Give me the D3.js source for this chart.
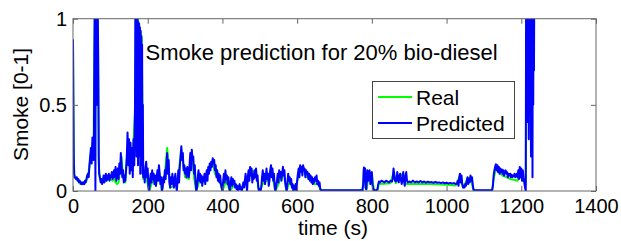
<!DOCTYPE html>
<html>
<head>
<meta charset="utf-8">
<script src="https://cdn.jsdelivr.net/npm/d3@7"></script>
<style>
  body { margin: 0; background: #fff; }
  svg { font-family: Arial, "Liberation Sans", sans-serif; }
</style>
</head>
<body>
<div id="chart"></div>
<script>
// smoke values, [time (s), smoke]
var predicted = [
  [0,0.88],[1,0.5],[2,0.2],[3,0.1],[5,0.08],[8,0.07],[10,0.08],[12,0.06],[14,0.07],[16,0.05],[18,0.06],[20,0.05],
  [22,0.04],[24,0.05],[26,0.04],[28,0.05],[30,0.04],[32,0.06],[34,0.05],[36,0.07],[38,0.09],[40,0.1],[42,0.08],
  [44,0.15],[46,0.2],[48,0.25],[50,0.16],[52,0.31],[54,0.28],[55,0.18],[56,0.3],[57,0.7],[58,1.05],[59,1.1],
  [60,0.0],[61,1.05],[62,1.1],[63,0.95],[64,0.5],[65,1.05],[66,1.1],[67,0.9],[68,0.6],[69,0.2],[70,0.1],
  [72,0.08],[74,0.05],[76,0.07],[78,0.04],[80,0.06],[82,0.09],[84,0.05],[86,0.08],[88,0.1],[90,0.06],[92,0.09],
  [94,0.07],[96,0.1],[98,0.06],[100,0.09],[102,0.08],[104,0.11],[106,0.07],[108,0.1],
  [110,0.12],[112,0.08],[114,0.14],[116,0.06],[118,0.1],[120,0.13],[122,0.07],[124,0.16],[126,0.1],[128,0.22],
  [130,0.15],[132,0.08],[134,0.12],[136,0.05],[138,0.09],[140,0.06],[142,0.12],
  [144,0.2],[146,0.34],[148,0.15],[150,0.3],[152,0.1],[154,0.28],[156,0.12],[158,0.25],[160,0.08],[162,0.3],
  [164,0.15],[166,0.5],[167,1.05],[168,0.3],[169,1.05],[170,0.2],[171,1.0],[172,0.4],[173,1.02],[174,0.15],
  [175,0.98],[176,0.3],[177,0.97],[178,0.2],[179,0.95],[180,0.1],[181,0.93],[182,0.25],[183,0.9],[184,0.15],
  [185,0.85],[186,0.1],[187,0.5],[188,0.08],
  [190,0.12],[192,0.05],[194,0.14],[196,0.17],[198,0.08],[200,0.13],[202,0.02],[204,0.0],[206,0.06],[208,0.1],
  [210,0.05],[212,0.12],[214,0.07],[216,0.1],[218,0.04],[220,0.09],[222,0.03],[224,0.08],[226,0.12],[228,0.06],
  [230,0.15],[232,0.1],[234,0.04],[236,0.08],[238,0.0],[240,0.02],[242,0.08],[244,0.05],[246,0.12],[248,0.07],
  [250,0.15],[252,0.22],[254,0.1],[256,0.18],[258,0.05],[260,0.02],[262,0.08],[264,0.04],[266,0.1],[268,0.06],
  [270,0.02],[272,0.07],[274,0.1],[276,0.03],[278,0.0],[280,0.06],[282,0.12],[284,0.05],[286,0.15],[288,0.2],
  [290,0.26],[292,0.18],[294,0.22],[296,0.12],[298,0.15],[300,0.1],[302,0.13],[304,0.08],[306,0.14],[308,0.11],
  [310,0.08],[312,0.15],[314,0.22],[316,0.12],[318,0.24],[320,0.18],[322,0.2],[324,0.1],[326,0.15],[328,0.05],
  [330,0.0],[332,0.02],[334,0.08],[336,0.12],[338,0.06],[340,0.1],[342,0.05],[344,0.09],[346,0.03],[348,0.08],
  [350,0.06],[352,0.1],[354,0.04],[356,0.08],[358,0.12],[360,0.06],[362,0.14],[364,0.1],[366,0.16],[368,0.12],
  [370,0.17],[372,0.14],[374,0.19],[376,0.16],[378,0.18],[380,0.12],[382,0.15],[384,0.08],[386,0.12],[388,0.06],
  [390,0.1],[392,0.05],[394,0.09],[396,0.04],[398,0.02],[400,0.0],[402,0.06],[404,0.1],[406,0.05],[408,0.12],
  [410,0.07],[412,0.09],[414,0.04],[416,0.08],[418,0.02],[420,0.0],[422,0.05],[424,0.08],[426,0.03],[428,0.07],
  [430,0.04],[432,0.06],[434,0.02],[436,0.04],[438,0.01],[440,0.03],[442,0.0],[444,0.02],[446,0.04],[448,0.01],
  [450,0.02],[452,0.0],[454,0.03],[456,0.05],[458,0.02],[460,0.06],[462,0.1],[464,0.04],[466,0.0],[468,0.08],
  [470,0.12],[472,0.06],[474,0.14],[476,0.09],[478,0.13],[480,0.05],[482,0.1],[484,0.07],[486,0.12],[488,0.08],
  [490,0.13],[492,0.06],[494,0.09],[496,0.02],[498,0.0],[500,0.01],[502,0.0],[504,0.02],[506,0.08],[508,0.12],
  [510,0.06],[512,0.1],[514,0.04],[516,0.08],[518,0.13],[520,0.07],[522,0.1],[524,0.03],[526,0.06],[528,0.12],
  [530,0.15],[532,0.08],[534,0.13],[536,0.06],[538,0.1],[540,0.02],[542,0.0],[544,0.03],[546,0.06],[548,0.1],
  [550,0.05],[552,0.12],[554,0.08],[556,0.11],[558,0.06],[560,0.1],[562,0.14],[564,0.09],[566,0.12],[568,0.05],
  [570,0.02],[572,0.0],[574,0.05],[576,0.1],[578,0.06],[580,0.08],[582,0.04],[584,0.07],[586,0.02],[588,0.04],
  [590,0.0],[592,0.03],[594,0.01],[596,0.04],[598,0.0],[600,0.06],[602,0.1],[604,0.13],[606,0.08],[608,0.15],
  [610,0.11],[612,0.14],[614,0.09],[616,0.15],[618,0.12],[620,0.13],[622,0.08],[624,0.12],[626,0.1],[628,0.11],
  [630,0.07],[632,0.1],[634,0.06],[636,0.09],[638,0.05],[640,0.08],[642,0.04],[644,0.07],[646,0.05],[648,0.08],
  [650,0.06],[652,0.09],[654,0.04],[656,0.06],[658,0.03],[660,0.05],[662,0.01],[664,0.005],
  [700,0.005],[740,0.005],[775,0.005],
  [777,0.04],[778,0.12],[779,0.137],[780,0.06],[781,0.1],[782,0.13],[783,0.02],[785,0.01],[787,0.08],[788,0.12],
  [790,0.06],[792,0.11],[794,0.12],[796,0.04],[798,0.1],[800,0.11],[802,0.03],[804,0.01],[806,0.005],[812,0.005],
  [815,0.01],[817,0.04],[819,0.055],[822,0.05],[826,0.06],[830,0.055],[834,0.05],[838,0.06],[842,0.055],
  [846,0.05],[850,0.06],[854,0.055],[856,0.07],[858,0.13],[860,0.1],[862,0.06],[864,0.055],[866,0.06],[868,0.11],
  [870,0.07],[872,0.05],[874,0.09],[876,0.1],[878,0.06],[880,0.04],[882,0.07],[884,0.11],[886,0.06],[888,0.03],
  [890,0.08],[892,0.11],[894,0.06],[896,0.05],[900,0.055],[905,0.05],[910,0.06],[915,0.05],[920,0.055],
  [925,0.05],[930,0.058],[935,0.05],[940,0.055],[945,0.048],[950,0.054],[955,0.05],[960,0.052],[965,0.047],
  [970,0.053],[975,0.048],[980,0.05],[985,0.046],[990,0.05],[995,0.045],[1000,0.048],[1005,0.044],[1010,0.047],
  [1015,0.043],[1020,0.046],[1025,0.04],[1028,0.045],[1030,0.06],[1032,0.03],[1034,0.08],[1036,0.1],[1038,0.05],
  [1040,0.09],[1042,0.04],[1044,0.02],[1046,0.03],[1048,0.02],[1050,0.04],[1052,0.03],[1054,0.06],[1056,0.08],
  [1058,0.04],[1060,0.07],[1062,0.05],[1064,0.09],[1066,0.06],[1068,0.08],[1070,0.04],[1072,0.01],[1074,0.005],
  [1100,0.005],[1122,0.005],
  [1124,0.03],[1126,0.09],[1128,0.12],[1130,0.14],[1132,0.155],[1134,0.12],[1136,0.15],[1138,0.11],[1140,0.14],
  [1142,0.1],[1144,0.13],[1146,0.11],[1148,0.125],[1150,0.1],[1152,0.12],[1154,0.09],[1156,0.11],[1158,0.12],
  [1160,0.1],[1162,0.11],[1164,0.08],[1166,0.1],[1168,0.09],[1170,0.1],[1172,0.08],[1174,0.095],[1176,0.08],
  [1178,0.09],[1180,0.085],[1182,0.1],[1184,0.08],[1186,0.09],[1188,0.1],[1190,0.08],[1192,0.12],[1194,0.07],
  [1196,0.14],[1198,0.08],[1200,0.13],[1202,0.06],[1204,0.12],[1206,0.08],[1208,0.05],[1210,0.02],[1212,0.0],
  [1213,1.3],[1214,0.9],[1215,1.3],[1216,0.4],[1217,1.3],[1218,0.8],[1219,1.3],[1220,0.3],[1221,1.3],[1222,0.9],
  [1223,1.3],[1225,0.74],[1226,0.2],[1227,1.3],[1228,0.6],[1229,1.3],[1230,0.08],[1231,1.3],[1232,0.5],
  [1233,1.3],[1234,0.7],[1235,1.3],[1237,1.3]
];

var real = [
  [0,0.85],[2,0.2],[4,0.08],[10,0.07],[20,0.04],[30,0.04],[36,0.06],[40,0.09],[44,0.14],[48,0.22],[52,0.28],
  [55,0.2],[57,0.8],[59,1.1],[61,1.1],[63,0.9],[65,1.05],[67,0.85],[69,0.15],[72,0.07],[80,0.05],[90,0.06],
  [100,0.07],[106,0.06],[110,0.08],[114,0.05],[118,0.04],[122,0.05],[126,0.12],[130,0.2],[134,0.08],[140,0.05],
  [144,0.18],[148,0.3],[152,0.2],[156,0.25],[160,0.2],[164,0.38],[166,0.45],[168,1.05],[172,1.0],[176,0.97],
  [180,0.93],[184,0.88],[186,0.4],[188,0.07],[194,0.1],[198,0.06],[204,0.0],[210,0.04],[216,0.08],[222,0.03],
  [230,0.12],[238,0.0],[246,0.1],[252,0.25],[256,0.15],[260,0.02],[270,0.03],[280,0.05],[290,0.24],[300,0.08],
  [310,0.07],[318,0.22],[324,0.08],[330,0.0],[340,0.07],[350,0.05],[360,0.1],[374,0.17],[380,0.1],[390,0.08],
  [400,0.0],[410,0.06],[420,0.0],[430,0.03],[440,0.02],[450,0.01],[460,0.05],[474,0.12],[490,0.11],[498,0.0],
  [510,0.05],[520,0.06],[530,0.13],[542,0.0],[550,0.04],[562,0.12],[572,0.0],[580,0.06],[590,0.0],[600,0.05],
  [608,0.13],[616,0.13],[626,0.08],[636,0.07],[646,0.04],[656,0.04],[664,0.003],[775,0.003],[779,0.12],
  [782,0.11],[786,0.01],[792,0.1],[800,0.09],[806,0.003],[815,0.003],[819,0.04],[830,0.042],[850,0.045],
  [858,0.11],[864,0.045],[876,0.09],[884,0.1],[890,0.04],[896,0.04],[950,0.04],[1000,0.036],[1025,0.032],
  [1036,0.09],[1044,0.02],[1056,0.07],[1064,0.08],[1072,0.003],[1122,0.003],[1126,0.07],[1132,0.13],[1140,0.11],
  [1150,0.09],[1160,0.08],[1170,0.07],[1180,0.065],[1190,0.06],[1196,0.1],[1204,0.06],[1210,0.05],[1212,0.04],
  [1214,1.3],[1222,1.3],[1225,0.7],[1227,1.3],[1237,1.3]
];

var xTicks = [0, 200, 400, 600, 800, 1000, 1200, 1400];
var yTicks = [0, 0.5, 1];

var W = 621, H = 241;
var plotLeft = 73, plotTop = 18.7, plotRight = 596, plotBottom = 191;

var svg = d3.select('#chart').append('svg').attr('width', W).attr('height', H);

var x = d3.scaleLinear().domain([0, 1400]).range([plotLeft, plotRight]);
var y = d3.scaleLinear().domain([0, 1]).range([plotBottom, plotTop]);

svg.append('clipPath').attr('id', 'plotclip')
  .append('rect').attr('x', plotLeft).attr('y', plotTop)
  .attr('width', plotRight - plotLeft).attr('height', plotBottom - plotTop);

var line = d3.line().x(function(d) { return x(d[0]); }).y(function(d) { return y(d[1]); });

var plot = svg.append('g').attr('clip-path', 'url(#plotclip)');
plot.append('path').datum(real).attr('d', line)
  .attr('fill', 'none').attr('stroke', '#00ff00').attr('stroke-width', 2).attr('stroke-linejoin', 'round');
plot.append('path').datum(predicted).attr('d', line)
  .attr('fill', 'none').attr('stroke', '#0000ff').attr('stroke-width', 2).attr('stroke-linejoin', 'round');

// axes, ticks pointing inward like matlab
var axisColor = '#666';
var xAxis = d3.axisBottom(x).tickValues(xTicks).tickSizeInner(-5).tickSizeOuter(0).tickPadding(8).tickFormat(d3.format('d'));
var yAxis = d3.axisLeft(y).tickValues(yTicks).tickSizeInner(-5).tickSizeOuter(0).tickPadding(6).tickFormat(d3.format('~g'));
var xTop = d3.axisTop(x).tickValues(xTicks).tickSizeInner(-5).tickSizeOuter(0).tickFormat('');
var yRight = d3.axisRight(y).tickValues(yTicks).tickSizeInner(-5).tickSizeOuter(0).tickFormat('');

function styleAxis(g) {
  g.select('.domain').remove();
  g.selectAll('line').attr('stroke', axisColor);
  g.selectAll('text').attr('fill', '#000').style('font-size', '20px')
    .style('font-family', 'Arial, "Liberation Sans", sans-serif');
}
svg.append('g').attr('transform', 'translate(0,' + plotBottom + ')').call(xAxis).call(styleAxis);
svg.append('g').attr('transform', 'translate(' + plotLeft + ',0)').call(yAxis).call(styleAxis);
svg.append('g').attr('transform', 'translate(0,' + plotTop + ')').call(xTop).call(styleAxis);
svg.append('g').attr('transform', 'translate(' + plotRight + ',0)').call(yRight).call(styleAxis);

svg.append('rect').attr('x', plotLeft).attr('y', plotTop)
  .attr('width', plotRight - plotLeft).attr('height', plotBottom - plotTop)
  .attr('fill', 'none').attr('stroke', axisColor).attr('stroke-width', 1);

// title inside the axes
svg.append('text').attr('x', 145.5).attr('y', 60).attr('font-size', 22).text('Smoke prediction for 20% bio-diesel');

// axis labels
svg.append('text').attr('x', 333).attr('y', 235).attr('text-anchor', 'middle').attr('font-size', 21).text('time (s)');
svg.append('text').attr('transform', 'translate(28,104.5) rotate(-90)').attr('text-anchor', 'middle')
  .attr('font-size', 21).text('Smoke [0-1]');

// legend
var legend = svg.append('g');
legend.append('rect').attr('x', 372.5).attr('y', 81.5).attr('width', 142).attr('height', 57)
  .attr('fill', '#fff').attr('stroke', '#444').attr('stroke-width', 1);
var legendItems = [['Real', '#00ff00', 97], ['Predicted', '#0000ff', 123]];
legendItems.forEach(function(it) {
  legend.append('line').attr('x1', 378).attr('x2', 412).attr('y1', it[2]).attr('y2', it[2])
    .attr('stroke', it[1]).attr('stroke-width', 2);
  legend.append('text').attr('x', 416).attr('y', it[2] + 7.5).attr('font-size', 21).text(it[0]);
});
</script>
</body>
</html>
